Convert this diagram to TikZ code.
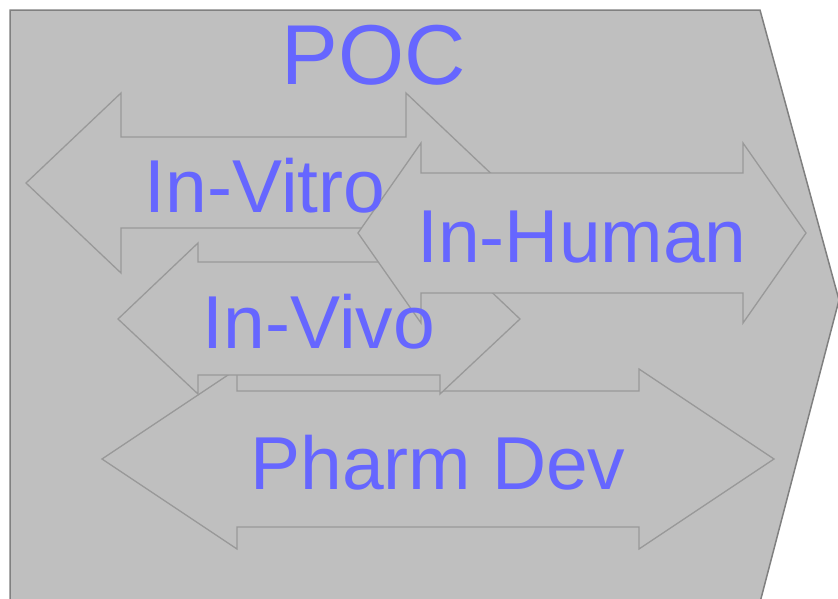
\documentclass[tikz,border=0pt]{standalone}
\usepackage{fontspec}
\setmainfont{Liberation Sans}
\definecolor{pocblue}{HTML}{6666FF}
\definecolor{chevfill}{HTML}{BFBFBF}
\definecolor{chevline}{HTML}{808080}
\definecolor{arrline}{HTML}{999999}
\tikzset{
	arrshape/.style={fill=chevfill, draw=arrline, line width=1.3pt, line join=miter},
	lbl/.style={text=pocblue, inner sep=0pt, anchor=base, font=\fontsize{75}{80}\selectfont}
}
\begin{document}
\begin{tikzpicture}[x=1pt,y=-1pt]
		\useasboundingbox (0,0) rectangle (838,598);
		\clip (0,0) rectangle (838,598);
		% phase chevron
		\filldraw[fill=chevfill, draw=chevline, line width=1.5pt] (10,10) -- (760,10) -- (839,300) -- (758,610) -- (10,610) -- cycle;
		% double arrows, back to front
		\draw[arrshape] (26,183) -- (121,93) -- (121,137) -- (406,137) -- (406,93) -- (501,183) -- (406,273) -- (406,228) -- (121,228) -- (121,273) -- cycle;
		\draw[arrshape] (102,459) -- (237,369) -- (237,391) -- (639,391) -- (639,369) -- (774,459) -- (639,549) -- (639,527) -- (237,527) -- (237,549) -- cycle;
		\draw[arrshape] (118,319) -- (198,243) -- (198,262) -- (440,262) -- (440,243) -- (520,319) -- (440,394) -- (440,375) -- (198,375) -- (198,394) -- cycle;
		\draw[arrshape] (358,233) -- (421,143) -- (421,173) -- (743,173) -- (743,143) -- (806,233) -- (743,323) -- (743,293) -- (421,293) -- (421,323) -- cycle;
		% labels
		\node[lbl, font=\fontsize{85}{90}\selectfont] (poc) at (374,84) {POC};
		\node[lbl] (vitro) at (265,212) {In-Vitro};
		\node[lbl] (human) at (582,262) {In-Human};
		\node[lbl] (vivo) at (319,348) {In-Vivo};
		\node[lbl] (pharm) at (438,489) {Pharm Dev};
	\end{tikzpicture}
\end{document}
